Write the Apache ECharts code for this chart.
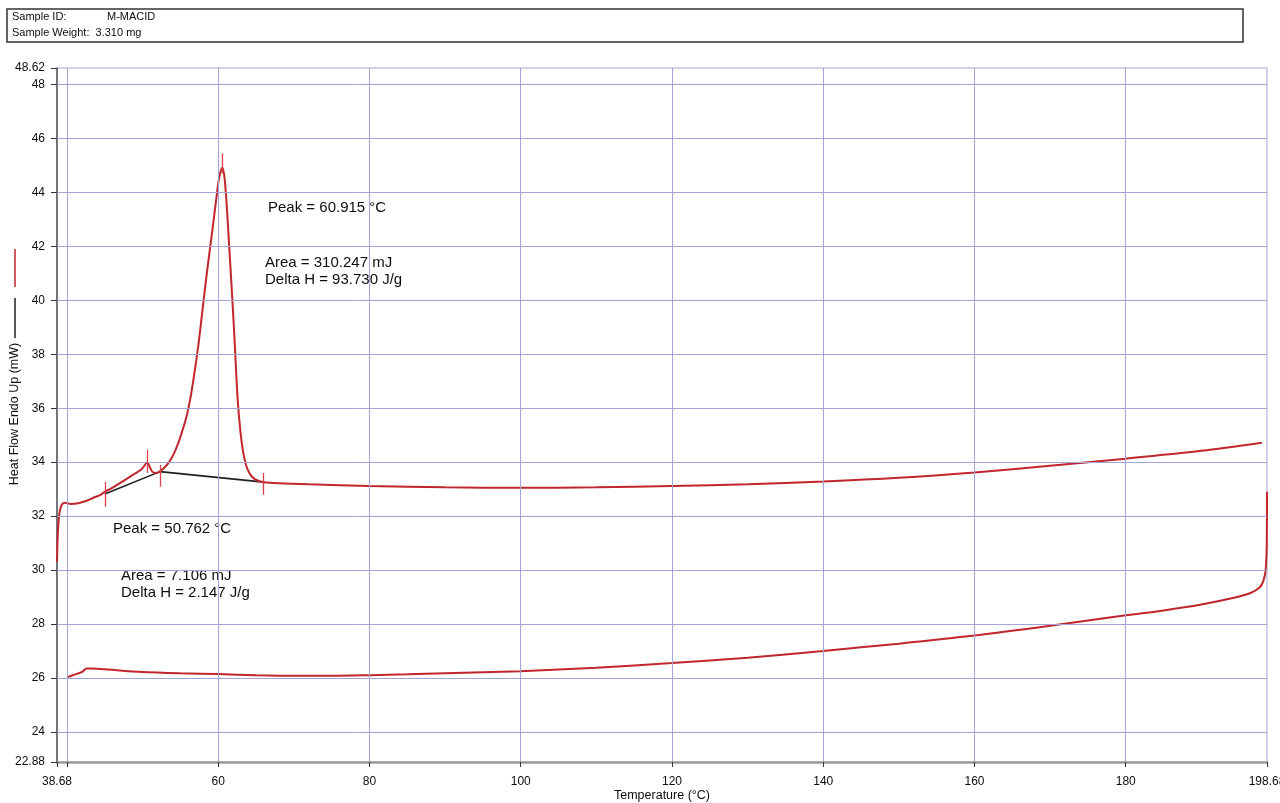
<!DOCTYPE html>
<html>
<head>
<meta charset="utf-8">
<script src="https://cdn.jsdelivr.net/npm/echarts@6/dist/echarts.min.js"></script>
<style>
html,body{margin:0;padding:0;background:#fff;}
#chart{width:1280px;height:803px;}
</style>
</head>
<body>
<div id="chart"></div>
<script>
// ---- Data ----
const heatT = [38.68,38.8,39.0,39.3,39.7,40.5,41.5,42.5,43.5,44.5,45.0,46.0,47.0,48.0,49.0,49.8,50.2,50.6,50.95,51.3,51.8,52.3,52.9,53.5,54.1,54.7,55.3,55.9,56.4,56.9,57.4,57.9,58.4,58.9,59.4,59.8,60.15,60.55,60.85,61.15,61.45,61.75,62.15,62.55,62.95,63.35,63.85,64.5,65.2,66.0,68,72,80,90,100,110,120,130,140,150,160,170,180,190,198.0];
const heatV = [30.3,31.4,32.1,32.42,32.5,32.45,32.48,32.56,32.68,32.8,32.9,33.05,33.22,33.4,33.58,33.72,33.85,34.0,33.82,33.64,33.6,33.66,33.8,34.0,34.3,34.7,35.2,35.8,36.5,37.4,38.4,39.6,40.8,41.9,43.0,43.9,44.6,44.92,44.5,43.4,42.0,40.6,38.6,36.4,35.1,34.3,33.75,33.45,33.32,33.26,33.22,33.18,33.12,33.07,33.05,33.07,33.12,33.18,33.28,33.42,33.62,33.87,34.13,34.42,34.72];

const coolT = [40.0,41.0,42.0,42.6,43.5,45,50,55,60,65,70,75,80,85,90,100,110,120,130,140,150,160,170,180,185,190,194,196.5,197.7,198.2,198.5,198.65,198.68];
const coolV = [26.02,26.12,26.22,26.35,26.35,26.32,26.22,26.17,26.14,26.1,26.08,26.08,26.1,26.13,26.17,26.25,26.38,26.55,26.75,27.0,27.27,27.57,27.93,28.32,28.5,28.72,28.95,29.15,29.35,29.6,30.0,31.0,32.9];

const baselineT = [45.0, 52.3, 65.7];
const baselineV = [32.82, 33.65, 33.27];

// peak/limit markers: temperature, low value, high value
const markerT    = [45.0, 50.6, 52.3, 60.55, 65.9];
const markerLow  = [32.35, 33.6, 33.09, 44.7, 32.79];
const markerHigh = [33.27, 34.46, 33.9, 45.45, 33.6];

const xMin = 38.68, xMax = 198.68;
const yMin = 22.88, yMax = 48.62;
const xTickValues  = [38.68,40,60,80,100,120,140,160,180,198.68];
const xLabelValues = [38.68,60,80,100,120,140,160,180,198.68];
const xGridValues  = [40,60,80,100,120,140,160,180];
const yTickValues  = [22.88,24,26,28,30,32,34,36,38,40,42,44,46,48,48.62];
const yGridValues  = [24,26,28,30,32,34,36,38,40,42,44,46,48];

const annotations = [
  'Peak = 60.915 °C',
  'Area = 310.247 mJ',
  'Delta H = 93.730 J/g',
  'Peak = 50.762 °C',
  'Area = 7.106 mJ',
  'Delta H = 2.147 J/g'
];
const sampleId = 'M-MACID';
const sampleWeight = '3.310 mg';
const xName = 'Temperature (°C)';
const yName = 'Heat Flow Endo Up (mW)';

// ---- Build ----
const FONT = '"Liberation Sans", Arial, sans-serif';
const RED = '#c0262b';
const GRID = '#a3a3d6';
const TXT = '#0d0d0d';

const zip = (a, b) => a.map((v, i) => [v, b[i]]);

const gridMarks = [];
xGridValues.forEach(v => gridMarks.push({ xAxis: v }));
yGridValues.forEach(v => gridMarks.push({ yAxis: v }));

const tickMarks = markerT.map((t, i) => [
  { coord: [t, markerLow[i]] },
  { coord: [t, markerHigh[i]] }
]);

const chart = echarts.init(document.getElementById('chart'), null, { renderer: 'canvas' });

const option = {
  animation: false,
  backgroundColor: '#fff',
  grid: {
    left: 57, right: 13, top: 68, bottom: 41,
    containLabel: false, outerBoundsMode: 'none',
    show: true, borderColor: GRID, borderWidth: 1, backgroundColor: 'transparent'
  },
  xAxis: {
    type: 'value', min: xMin, max: xMax,
    axisLine: { show: true, onZero: false, lineStyle: { color: '#9a9a9a', width: 2.5 } },
    axisTick: { show: true, customValues: xTickValues, length: 5, lineStyle: { color: '#333' } },
    axisLabel: {
      customValues: xLabelValues, margin: 14, color: TXT, fontSize: 12, fontFamily: FONT,
      hideOverlap: false, formatter: v => String(v)
    },
    splitLine: { show: false },
    name: xName, nameLocation: 'middle', nameGap: 27, nameMoveOverlap: false,
    nameTextStyle: { color: TXT, fontSize: 12.5, fontFamily: FONT }
  },
  yAxis: {
    type: 'value', min: yMin, max: yMax,
    axisLine: { show: true, onZero: false, lineStyle: { color: '#555', width: 1.5 } },
    axisTick: { show: true, customValues: yTickValues, length: 6, lineStyle: { color: '#333' } },
    axisLabel: {
      customValues: yTickValues, margin: 12, color: TXT, fontSize: 12, fontFamily: FONT,
      hideOverlap: false, formatter: v => String(v)
    },
    splitLine: { show: false }
  },
  series: [
    {
      type: 'line', data: [], silent: true, z: 1,
      markLine: {
        silent: true, symbol: 'none', label: { show: false },
        lineStyle: { color: GRID, width: 1, type: 'solid' },
        data: gridMarks
      }
    },
    {
      name: 'Baseline', type: 'line', data: zip(baselineT, baselineV),
      showSymbol: false, symbol: 'none', z: 3,
      lineStyle: { color: '#1f1f1f', width: 1.6 }
    },
    {
      name: 'Heating', type: 'line', data: zip(heatT, heatV),
      showSymbol: false, symbol: 'none', smooth: 0.3, z: 4,
      lineStyle: { color: RED, width: 2 },
      markLine: {
        silent: true, symbol: 'none', label: { show: false },
        lineStyle: { color: '#d9404a', width: 1.3, type: 'solid' },
        data: tickMarks
      }
    },
    {
      name: 'Cooling', type: 'line', data: zip(coolT, coolV),
      showSymbol: false, symbol: 'none', smooth: 0.3, z: 4,
      lineStyle: { color: RED, width: 2 }
    }
  ],
  graphic: [
    { type: 'rect', shape: { x: 7, y: 9, width: 1236, height: 33 },
      style: { fill: 'none', stroke: '#333', lineWidth: 1.5 } },
    { type: 'text', x: 12, y: 17, style: { text: 'Sample ID:', font: '11px ' + FONT, fill: TXT, textVerticalAlign: 'middle' } },
    { type: 'text', x: 107, y: 17, style: { text: sampleId, font: '11px ' + FONT, fill: TXT, textVerticalAlign: 'middle' } },
    { type: 'text', x: 12, y: 33, style: { text: 'Sample Weight:  ' + sampleWeight, font: '11px ' + FONT, fill: TXT, textVerticalAlign: 'middle' } },

    { type: 'line', shape: { x1: 15, y1: 249, x2: 15, y2: 287 }, style: { stroke: RED, lineWidth: 1.5 } },
    { type: 'line', shape: { x1: 15, y1: 298, x2: 15, y2: 338 }, style: { stroke: '#1f1f1f', lineWidth: 1.5 } },
    { type: 'text', x: 15, y: 414, rotation: Math.PI / 2,
      style: { text: yName, font: '12.5px ' + FONT, fill: TXT, textAlign: 'center', textVerticalAlign: 'middle' } },

    { type: 'text', x: 268, y: 208, style: { text: annotations[0], font: '15px ' + FONT, fill: TXT, textVerticalAlign: 'middle' } },
    { type: 'text', x: 265, y: 263, style: { text: annotations[1], font: '15px ' + FONT, fill: TXT, textVerticalAlign: 'middle' } },
    { type: 'text', x: 265, y: 280, style: { text: annotations[2], font: '15px ' + FONT, fill: TXT, textVerticalAlign: 'middle' } },
    { type: 'text', x: 113, y: 529, style: { text: annotations[3], font: '15px ' + FONT, fill: TXT, textVerticalAlign: 'middle' } },
    { type: 'text', x: 121, y: 576, style: { text: annotations[4], font: '15px ' + FONT, fill: TXT, textVerticalAlign: 'middle' } },
    { type: 'text', x: 121, y: 593, style: { text: annotations[5], font: '15px ' + FONT, fill: TXT, textVerticalAlign: 'middle' } }
  ]
};
chart.setOption(option);
</script>
</body>
</html>
